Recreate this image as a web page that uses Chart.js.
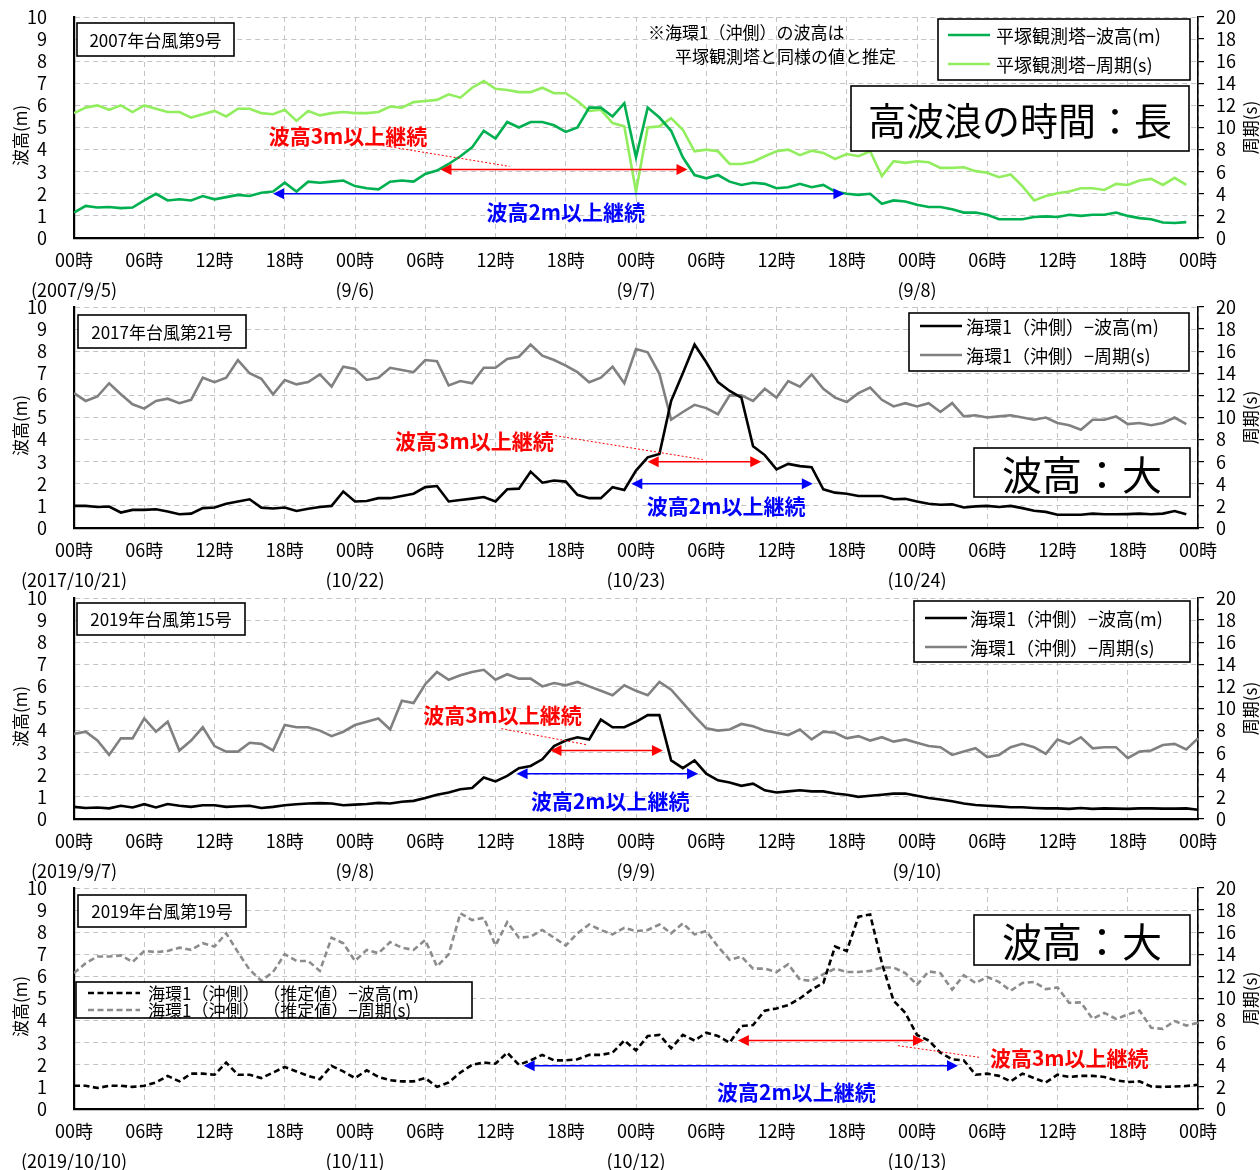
<!DOCTYPE html>
<html lang="ja">
<head>
<meta charset="utf-8">
<title>台風時の波高・周期</title>
<script src="https://cdn.jsdelivr.net/npm/chart.js@4.4.1/dist/chart.umd.min.js"></script>
<style>
  html, body { margin: 0; padding: 0; background: #fff; }
  body { width: 1260px; height: 1170px; position: relative; overflow: hidden; }
  .panel { position: absolute; left: 0; width: 1260px; height: 300px; }
</style>
</head>
<body>
<div class="panel" style="top:0"><canvas id="chart2007" width="1260" height="300"></canvas></div>
<div class="panel" style="top:290px"><canvas id="chart2017" width="1260" height="300"></canvas></div>
<div class="panel" style="top:581px"><canvas id="chart2019a" width="1260" height="300"></canvas></div>
<div class="panel" style="top:871px"><canvas id="chart2019b" width="1260" height="300"></canvas></div>

<script>
/* ============================================================
   1. DATA  (hourly values, hour 0 .. 96)
   ============================================================ */
const hourLabels = ['00時', '06時', '12時', '18時'];

const dates2007  = ['(2007/9/5)', '(9/6)', '(9/7)', '(9/8)'];
const dates2017  = ['(2017/10/21)', '(10/22)', '(10/23)', '(10/24)'];
const dates2019a = ['(2019/9/7)', '(9/8)', '(9/9)', '(9/10)'];
const dates2019b = ['(2019/10/10)', '(10/11)', '(10/12)', '(10/13)'];

// 2007 台風第9号 — 平塚観測塔
const height2007 = [
  1.15, 1.45, 1.38, 1.4, 1.35, 1.38, 1.7, 2.0, 1.7, 1.75,
  1.7, 1.9, 1.75, 1.85, 1.95, 1.9, 2.05, 2.1, 2.5, 2.1,
  2.55, 2.5, 2.55, 2.6, 2.35, 2.25, 2.2, 2.55, 2.6, 2.55,
  2.9, 3.05, 3.35, 3.7, 4.1, 4.85, 4.5, 5.25, 5.0, 5.25,
  5.25, 5.1, 4.8, 5.0, 5.9, 5.9, 5.5, 6.1, 3.65, 5.9,
  5.45, 4.85, 3.65, 2.85, 2.7, 2.85, 2.55, 2.4, 2.5, 2.45,
  2.25, 2.3, 2.45, 2.3, 2.4, 2.1, 2.0, 1.95, 2.0, 1.55,
  1.7, 1.65, 1.5, 1.4, 1.4, 1.3, 1.15, 1.15, 1.05, 0.85,
  0.85, 0.85, 0.95, 0.98, 0.95, 1.05, 1.0, 1.05, 1.05, 1.15,
  1.0, 0.9, 0.85, 0.7, 0.68, 0.72, null
];
const period2007 = [
  11.3, 11.8, 12, 11.6, 12, 11.4, 12, 11.7, 11.4, 11.4,
  10.9, 11.2, 11.5, 11, 11.7, 11.7, 11.3, 11.2, 11.6, 10.6,
  11.5, 11.1, 11.3, 11.4, 11.3, 11.3, 11.4, 11.9, 11.8, 12.3,
  12.4, 12.5, 13, 12.7, 13.6, 14.2, 13.5, 13.4, 13.2, 13.2,
  13.6, 13.1, 13.1, 12.4, 11.5, 11.6, 10.4, 10.1, 4.2, 10.0,
  10.1, 10.85, 9.8, 7.85, 8.0, 7.85, 6.7, 6.7, 6.9, 7.4,
  7.85, 8.0, 7.5, 7.9, 7.7, 7.15, 7.6, 7.4, 7.85, 5.6,
  6.95, 6.8, 6.95, 6.85, 6.35, 6.35, 6.4, 6.05, 5.9, 5.5,
  5.75, 4.7, 3.4, 3.8, 4.05, 4.2, 4.5, 4.5, 4.35, 4.9,
  4.8, 5.2, 5.35, 4.8, 5.45, 4.8, null
];

// 2017 台風第21号 — 海環1（沖側）
const height2017 = [
  1.0, 1.0, 0.95, 0.97, 0.7, 0.82, 0.82, 0.85, 0.75, 0.62,
  0.65, 0.9, 0.93, 1.1, 1.2, 1.3, 0.92, 0.88, 0.93, 0.77,
  0.87, 0.95, 1.0, 1.65, 1.2, 1.22, 1.35, 1.35, 1.45, 1.55,
  1.85, 1.9, 1.2, 1.27, 1.33, 1.4, 1.2, 1.75, 1.78, 2.55,
  2.05, 2.15, 2.1, 1.5, 1.35, 1.35, 1.85, 1.72, 2.6, 3.2,
  3.35, 5.75, 7.0, 8.3, 7.5, 6.6, 6.2, 5.9, 3.7, 3.3,
  2.65, 2.9, 2.8, 2.75, 1.75, 1.6, 1.55, 1.45, 1.45, 1.45,
  1.3, 1.32, 1.2, 1.1, 1.05, 1.07, 0.93, 0.98, 1.0, 0.95,
  1.0, 0.9, 0.78, 0.73, 0.6, 0.6, 0.6, 0.65, 0.62, 0.62,
  0.63, 0.65, 0.62, 0.65, 0.77, 0.62, null
];
const period2017 = [
  12.2, 11.5, 11.9, 13.1, 12.1, 11.2, 10.8, 11.5, 11.7, 11.3,
  11.6, 13.6, 13.2, 13.6, 15.2, 14, 13.5, 12.1, 13.4, 13,
  13.2, 13.9, 12.8, 14.6, 14.4, 13.4, 13.6, 14.5, 14.3, 14.1,
  15.2, 15.1, 12.9, 13.3, 13.1, 14.5, 14.5, 15.3, 15.5, 16.6,
  15.6, 15.2, 14.7, 14.1, 13.2, 13.6, 14.6, 13.1, 16.2, 15.9,
  13.95, 9.8, 10.5, 11.15, 10.85, 10.3, 12.0, 12.0, 11.5, 12.6,
  11.8, 13.3, 12.8, 13.9, 12.6, 11.8, 11.4, 12.2, 12.7, 11.6,
  11.0, 11.3, 11.0, 11.3, 10.5, 11.3, 10.1, 10.2, 10.0, 10.1,
  10.2, 10.0, 9.8, 10.0, 9.5, 9.3, 8.9, 9.8, 9.8, 10.1,
  9.4, 9.5, 9.3, 9.5, 10.0, 9.4, null
];

// 2019 台風第15号 — 海環1（沖側）
const height2019a = [
  0.55, 0.5, 0.52, 0.48, 0.6, 0.52, 0.67, 0.52, 0.68, 0.6,
  0.55, 0.62, 0.62, 0.55, 0.58, 0.6, 0.5, 0.55, 0.62, 0.67,
  0.7, 0.72, 0.7, 0.62, 0.65, 0.68, 0.73, 0.7, 0.78, 0.82,
  0.95, 1.1, 1.2, 1.35, 1.4, 1.88, 1.7, 1.95, 2.3, 2.4,
  2.7, 3.3, 3.55, 3.7, 3.6, 4.5, 4.15, 4.15, 4.4, 4.7,
  4.7, 2.65, 2.3, 2.65, 2.05, 1.75, 1.65, 1.5, 1.6, 1.3,
  1.2, 1.25, 1.3, 1.25, 1.25, 1.15, 1.1, 1.0, 1.05, 1.1,
  1.15, 1.15, 1.05, 0.95, 0.88, 0.8, 0.7, 0.63, 0.6, 0.57,
  0.53, 0.53, 0.5, 0.48, 0.48, 0.46, 0.5, 0.46, 0.48, 0.47,
  0.46, 0.48, 0.48, 0.47, 0.47, 0.48, 0.42
];
const period2019a = [
  7.7, 7.9, 7.1, 5.8, 7.3, 7.3, 9.1, 7.9, 8.8, 6.2,
  7.1, 8.3, 6.6, 6.1, 6.1, 6.9, 6.8, 6.2, 8.5, 8.3,
  8.3, 8.0, 7.5, 7.9, 8.5, 8.8, 9.1, 8.1, 10.7, 10.5,
  12.2, 13.3, 12.6, 13, 13.3, 13.5, 12.6, 13.1, 12.7, 12.7,
  12, 12.3, 12.1, 12.4, 12, 11.6, 11.2, 12.1, 11.6, 11.2,
  12.4, 11.7, 10.5, 9.3, 8.2, 8.0, 8.1, 8.6, 8.4, 8.0,
  7.8, 7.6, 8.1, 7.2, 7.9, 7.8, 7.3, 7.5, 7.1, 7.4,
  7.0, 7.2, 6.9, 6.6, 6.5, 5.8, 6.1, 6.4, 5.6, 5.8,
  6.5, 6.8, 6.5, 5.9, 7.2, 6.8, 7.4, 6.4, 6.5, 6.5,
  5.5, 6.1, 6.2, 6.7, 6.8, 6.3, 7.3
];

// 2019 台風第19号 — 海環1（沖側）（推定値）
const height2019b = [
  1.05, 1.05, 0.95, 1.05, 1.05, 1.0, 1.05, 1.2, 1.5, 1.25,
  1.6, 1.6, 1.55, 2.1, 1.55, 1.55, 1.4, 1.65, 1.9, 1.7,
  1.5, 1.35, 1.95, 1.7, 1.4, 1.75, 1.45, 1.3, 1.25, 1.25,
  1.4, 1.0, 1.2, 1.65, 2.0, 2.1, 2.05, 2.55, 2.0, 2.2,
  2.45, 2.2, 2.2, 2.25, 2.45, 2.45, 2.55, 3.1, 2.65, 3.3,
  3.35, 2.75, 3.35, 3.1, 3.45, 3.3, 3.0, 3.75, 3.8, 4.45,
  4.55, 4.7, 5.0, 5.4, 5.7, 7.35, 7.15, 8.7, 8.8, 6.6,
  4.9, 4.35, 3.35, 3.1, 2.55, 2.25, 2.2, 1.55, 1.6, 1.5,
  1.25, 1.6, 1.4, 1.2, 1.55, 1.45, 1.5, 1.5, 1.45, 1.3,
  1.22, 1.25, 1.02, 1.0, 1.02, 1.04, 1.1
];
const period2019b = [
  12.3, 13.2, 13.8, 13.8, 13.9, 13.3, 14.3, 14.2, 14.3, 14.6,
  14.4, 15, 14.7, 15.9, 14.2, 12.6, 11.6, 12.4, 14, 13.4,
  13.4, 12.5, 15.5, 15, 13.4, 14.4, 14.1, 15.1, 14.6, 14.4,
  15.3, 12.9, 14, 17.7, 17.1, 17.3, 14.8, 16.9, 15.5, 15.6,
  16.2, 15.5, 14.8, 15.9, 16.7, 16.2, 15.8, 16.4, 16.1, 16.2,
  16.7, 15.9, 16.8, 15.8, 16.1, 14.7, 13.5, 13.8, 12.7, 12.7,
  12.4, 13.1, 11.7, 11.6, 12.2, 12.7, 12.4, 12.4, 12.5, 12.8,
  12.8, 12.3, 11.25, 12.45, 12.3, 10.8, 12.1, 11.4, 11.95, 11.5,
  10.7, 11.4, 11.5, 10.85, 11.0, 9.6, 9.65, 8.15, 8.7, 8.15,
  8.55, 8.9, 7.35, 7.25, 7.95, 7.55, 7.8
];

// 継続時間の矢印 [start hour, end hour, level m]
const over3m2007  = [31.3, 52.4, 3.1];
const over2m2007  = [17.0, 65.8, 2.0];
const over3m2017  = [49.0, 58.7, 3.0];
const over2m2017  = [47.6, 63.1, 2.0];
const over3m2019a = [40.7, 50.3, 3.1];
const over2m2019a = [37.8, 53.3, 2.05];
const over3m2019b = [56.7, 72.6, 3.1];
const over2m2019b = [38.4, 75.5, 1.96];

/* ============================================================
   2. PANEL SETTINGS (text + layout)
   ============================================================ */
const FONT = '"Noto Sans CJK JP", "Noto Sans", sans-serif';
const RED  = '#ff0000';
const BLUE = '#0000ff';

const panels = [
  {
    id: 'chart2007', dates: dates2007, height: height2007, period: period2007,
    colors: ['#00b050', '#92ee5e'], dash: [],
    legend: ['平塚観測塔−波高(m)', '平塚観測塔−周期(s)'],
    legendBox: { x: 938, y: 19, w: 252, h: 61, rows: [35, 64], lx: 948, lw: 42, tx: 996, size: 18 },
    title: { x: 77, y: 23, w: 157, h: 33, text: '2007年台風第9号' },
    big:   { x: 851, y: 86, w: 338, h: 65, text: '高波浪の時間：長', size: 38 },
    notes: [{ x: 648, y: 33, text: '※海環1（沖側）の波高は' }, { x: 675, y: 57, text: '平塚観測塔と同様の値と推定' }],
    red:  { arrow: over3m2007, label: [23.4, 4.62], lead: [[25.0, 4.3], [37.2, 3.24]] },
    blue: { arrow: over2m2007, label: [42.0, 1.18] },
  },
  {
    id: 'chart2017', dates: dates2017, height: height2017, period: period2017,
    colors: ['#000000', '#808080'], dash: [],
    legend: ['海環1（沖側）−波高(m)', '海環1（沖側）−周期(s)'],
    legendBox: { x: 909, y: 23, w: 280, h: 58, rows: [36, 65], lx: 920, lw: 42, tx: 966, size: 18 },
    title: { x: 78, y: 25, w: 168, h: 33, text: '2017年台風第21号' },
    big:   { x: 974, y: 158, w: 216, h: 49, text: '波高：大', size: 40 },
    notes: [],
    red:  { arrow: over3m2017, label: [34.2, 3.95], lead: [[41.1, 4.18], [53.7, 3.1]] },
    blue: { arrow: over2m2017, label: [55.7, 1.0] },
  },
  {
    id: 'chart2019a', dates: dates2019a, height: height2019a, period: period2019a,
    colors: ['#000000', '#808080'], dash: [],
    legend: ['海環1（沖側）−波高(m)', '海環1（沖側）−周期(s)'],
    legendBox: { x: 914, y: 20, w: 276, h: 61, rows: [37, 66], lx: 925, lw: 42, tx: 970, size: 18 },
    title: { x: 77, y: 22, w: 168, h: 32, text: '2019年台風第15号' },
    big:   null,
    notes: [],
    red:  { arrow: over3m2019a, label: [36.6, 4.7], lead: [[36.5, 4.09], [43.8, 3.36]] },
    blue: { arrow: over2m2019a, label: [45.8, 0.81] },
  },
  {
    id: 'chart2019b', dates: dates2019b, height: height2019b, period: period2019b,
    colors: ['#000000', '#8c8c8c'], dash: [6, 3.5],
    legend: ['海環1（沖側） （推定値）−波高(m)', '海環1（沖側） （推定値）−周期(s)'],
    legendBox: { x: 76, y: 111, w: 396, h: 36, rows: [122, 139], lx: 88, lw: 52, tx: 148, size: 17 },
    title: { x: 78, y: 24, w: 168, h: 32, text: '2019年台風第19号' },
    big:   { x: 974, y: 44, w: 216, h: 50, text: '波高：大', size: 40 },
    notes: [],
    red:  { arrow: over3m2019b, label: [85.0, 2.32], lead: [[77.3, 2.34], [70.2, 2.88]] },
    blue: { arrow: over2m2019b, label: [61.7, 0.77] },
  },
];

/* ============================================================
   3. DRAW HELPERS
   ============================================================ */
function drawBox(ctx, b) {
  ctx.fillStyle = '#fff';
  ctx.fillRect(b.x, b.y, b.w, b.h);
  ctx.strokeStyle = '#000';
  ctx.lineWidth = 1.6;
  ctx.strokeRect(b.x, b.y, b.w, b.h);
}

function drawArrow(ctx, x1, x2, y, color) {
  const len = 11, half = 5.5;
  ctx.strokeStyle = color;
  ctx.fillStyle = color;
  ctx.lineWidth = 1.6;
  ctx.beginPath();
  ctx.moveTo(x1 + len - 1, y);
  ctx.lineTo(x2 - len + 1, y);
  ctx.stroke();
  ctx.beginPath();
  ctx.moveTo(x1, y); ctx.lineTo(x1 + len, y - half); ctx.lineTo(x1 + len, y + half);
  ctx.closePath(); ctx.fill();
  ctx.beginPath();
  ctx.moveTo(x2, y); ctx.lineTo(x2 - len, y - half); ctx.lineTo(x2 - len, y + half);
  ctx.closePath(); ctx.fill();
}

function overlay(p) {
  return {
    id: 'overlay',
    afterDatasetsDraw(chart) {
      const ctx = chart.ctx;
      const xs = chart.scales.x, ys = chart.scales.y;
      const px = h => xs.getPixelForValue(h);
      const py = v => ys.getPixelForValue(v);
      const area = chart.chartArea;
      ctx.save();

      // title box
      drawBox(ctx, p.title);
      ctx.fillStyle = '#000';
      ctx.font = '17px ' + FONT;
      ctx.textAlign = 'center';
      ctx.textBaseline = 'middle';
      ctx.fillText(p.title.text, p.title.x + p.title.w / 2, p.title.y + p.title.h / 2 + 1);

      // note text
      ctx.textAlign = 'left';
      ctx.font = '17px ' + FONT;
      p.notes.forEach(n => ctx.fillText(n.text, n.x, n.y));

      // legend
      const lb = p.legendBox;
      drawBox(ctx, lb);
      lb.rows.forEach((ry, i) => {
        ctx.strokeStyle = p.colors[i];
        ctx.lineWidth = 2.5;
        ctx.setLineDash(p.dash);
        ctx.beginPath();
        ctx.moveTo(lb.lx, ry);
        ctx.lineTo(lb.lx + lb.lw, ry);
        ctx.stroke();
        ctx.setLineDash([]);
        ctx.fillStyle = '#000';
        ctx.font = lb.size + 'px ' + FONT;
        ctx.textAlign = 'left';
        ctx.fillText(p.legend[i], lb.tx, ry + 1, lb.x + lb.w - lb.tx - 8);
      });

      // big comment box
      if (p.big) {
        drawBox(ctx, p.big);
        ctx.fillStyle = '#000';
        ctx.font = p.big.size + 'px ' + FONT;
        ctx.textAlign = 'center';
        ctx.fillText(p.big.text, p.big.x + p.big.w / 2, p.big.y + p.big.h / 2 + 2);
      }

      // duration arrows
      const r = p.red, b = p.blue;
      drawArrow(ctx, px(b.arrow[0]), px(b.arrow[1]), py(b.arrow[2]), BLUE);
      drawArrow(ctx, px(r.arrow[0]), px(r.arrow[1]), py(r.arrow[2]), RED);

      // red leader line (dotted)
      ctx.strokeStyle = RED;
      ctx.lineWidth = 1;
      ctx.setLineDash([2, 2]);
      ctx.beginPath();
      ctx.moveTo(px(r.lead[0][0]), py(r.lead[0][1]));
      ctx.lineTo(px(r.lead[1][0]), py(r.lead[1][1]));
      ctx.stroke();
      ctx.setLineDash([]);

      // labels
      ctx.font = 'bold 21px ' + FONT;
      ctx.textAlign = 'center';
      ctx.fillStyle = RED;
      ctx.fillText('波高3m以上継続', px(r.label[0]), py(r.label[1]));
      ctx.fillStyle = BLUE;
      ctx.fillText('波高2m以上継続', px(b.label[0]), py(b.label[1]));

      // axis titles (both rotated, reading bottom to top)
      const cy = (area.top + area.bottom) / 2;
      ctx.fillStyle = '#000';
      ctx.font = '17px ' + FONT;
      ctx.save();
      ctx.translate(21, cy + 8);
      ctx.rotate(-Math.PI / 2);
      ctx.fillText('波高(m)', 0, 0);
      ctx.restore();
      ctx.save();
      ctx.translate(1251, cy);
      ctx.rotate(-Math.PI / 2);
      ctx.fillText('周期(s)', 0, 0);
      ctx.restore();

      ctx.restore();
    }
  };
}

/* ============================================================
   4. CHARTS
   ============================================================ */
Chart.defaults.font.family = FONT;
Chart.defaults.color = '#000';

function toPoints(values) {
  return values.map((v, i) => ({ x: i, y: v }));
}

// fixed axis sizes so every panel has the same plot box
function fixWidth(w) {
  return s => { s.width = w; s.paddingTop = 0; s.paddingBottom = 0; };
}

function buildChart(p) {
  const ctx = document.getElementById(p.id);
  const gridColor = '#c4c4c4';

  new Chart(ctx, {
    type: 'line',
    data: {
      datasets: [
        {
          label: p.legend[0],
          data: toPoints(p.height),
          yAxisID: 'y',
          borderColor: p.colors[0],
          borderWidth: 2.6,
          borderDash: p.dash,
          pointRadius: 0,
          tension: 0,
        },
        {
          label: p.legend[1],
          data: toPoints(p.period),
          yAxisID: 'y2',
          borderColor: p.colors[1],
          borderWidth: 2.6,
          borderDash: p.dash,
          pointRadius: 0,
          tension: 0,
        },
      ],
    },
    options: {
      responsive: false,
      animation: false,
      layout: { padding: { top: 17, left: 0, right: 0, bottom: 0 } },
      plugins: {
        legend: { display: false },
        tooltip: { enabled: false },
      },
      scales: {
        x: {
          type: 'linear',
          min: 0,
          max: 96,
          afterFit: s => { s.height = 62; s.paddingLeft = 0; s.paddingRight = 0; },
          grid: { color: gridColor, lineWidth: 1, drawTicks: false },
          border: { color: '#000', width: 2.2, dash: [5, 4] },
          ticks: {
            stepSize: 6,
            autoSkip: false,
            maxRotation: 0,
            padding: 7,
            font: { size: 18, lineHeight: 1.667 },
            callback: v => {
              const lbl = hourLabels[(v % 24) / 6];
              if (v % 24 === 0 && v < 96) return [lbl, p.dates[v / 24]];
              return lbl;
            },
          },
        },
        y: {
          position: 'left',
          min: 0,
          max: 10,
          afterFit: fixWidth(74),
          grid: { color: gridColor, lineWidth: 1, drawTicks: false },
          border: { color: '#000', width: 2.2, dash: [5, 4] },
          ticks: { stepSize: 1, autoSkip: false, padding: 27, font: { size: 18, lineHeight: 1 } },
        },
        y2: {
          position: 'right',
          min: 0,
          max: 20,
          afterFit: fixWidth(62),
          grid: { drawOnChartArea: false, drawTicks: true, tickLength: 6, color: '#000', lineWidth: 1.2 },
          border: { color: '#000', width: 1.6 },
          ticks: { stepSize: 2, autoSkip: false, padding: 12, font: { size: 18, lineHeight: 1 } },
        },
      },
    },
    plugins: [overlay(p)],
  });
}

panels.forEach(buildChart);
</script>
</body>
</html>
